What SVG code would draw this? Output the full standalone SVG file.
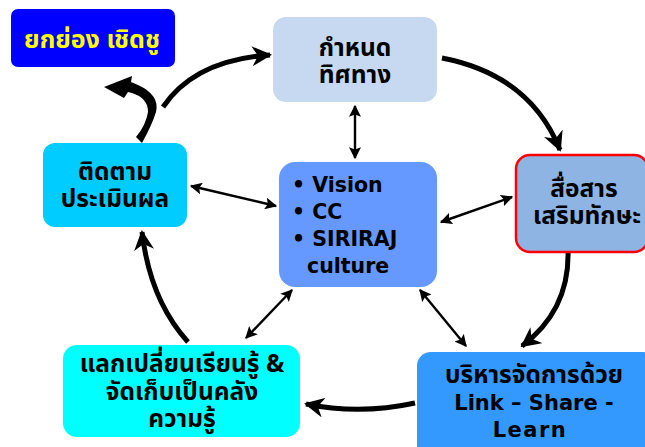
<svg xmlns="http://www.w3.org/2000/svg" width="645" height="447" viewBox="0 0 645 447">
<defs>
<style>
.t{font-family:"Noto Sans Thai","Tahoma","DejaVu Sans","Liberation Sans",sans-serif;font-weight:bold;font-size:24.5px;text-anchor:middle;fill:#000}
.l{font-family:"DejaVu Sans","Verdana",sans-serif;font-weight:bold;font-size:20.5px;fill:#000}
.c{text-anchor:middle;font-size:21px}
.thick{fill:none;stroke:#000;stroke-width:5}
.thin{fill:none;stroke:#000;stroke-width:2.4}
</style>
<marker id="big" viewBox="0 0 10 10" refX="9" refY="5" markerWidth="4" markerHeight="4" orient="auto" markerUnits="strokeWidth">
<path d="M0,0 L10,5 L0,10 L3,5 z" fill="#000"/>
</marker>
<marker id="sm" viewBox="0 0 10 10" refX="9" refY="5" markerWidth="5" markerHeight="5" orient="auto-start-reverse" markerUnits="strokeWidth">
<path d="M0,0 L10,5 L0,10 L2,5 z" fill="#000"/>
</marker>
</defs>
<rect width="645" height="447" fill="#fff"/>
<g id="connectors">
<path class="thick" d="M442,58 Q530,75 560,150" marker-end="url(#big)"/>
<path class="thick" d="M568,250 Q570,310 522,346" marker-end="url(#big)"/>
<path class="thick" d="M415,403 Q360,415 306,404" marker-end="url(#big)"/>
<path class="thick" d="M188,342 Q150,300 142,232" marker-end="url(#big)"/>
<path class="thick" d="M163,107 Q195,60 270,55" marker-end="url(#big)" stroke-width="4"/>
<path d="M142,143 Q152,125 156,112 Q160,95 138,85 L131,82 L132,76 L104,87 L124,98 L128,92 L132,93 Q148,98 148,112 Q146,125 136,137 z" fill="#000"/>
<path class="thin" d="M355,106 L355,158" marker-start="url(#sm)" marker-end="url(#sm)"/>
<path class="thin" d="M191,186 L276,206" marker-start="url(#sm)" marker-end="url(#sm)"/>
<path class="thin" d="M441,222 L512,197" marker-start="url(#sm)" marker-end="url(#sm)"/>
<path class="thin" d="M246,338 L292,290" marker-start="url(#sm)" marker-end="url(#sm)"/>
<path class="thin" d="M420,290 L466,346" marker-start="url(#sm)" marker-end="url(#sm)"/>
</g>
<g id="n-praise">
<rect x="11" y="9" width="164" height="58" rx="7" fill="#0000FF"/>
<text class="t" x="92" y="48" style="fill:#FFFF00;font-size:25px">ยกย่อง เชิดชู</text>
</g>
<g id="n-direction">
<rect x="273" y="17" width="164" height="85" rx="13" fill="#C6D9F1"/>
<text class="t" x="355" y="56">กำหนด</text>
<text class="t" x="355" y="83">ทิศทาง</text>
</g>
<g id="n-communicate">
<rect x="516" y="155" width="132" height="97" rx="14" fill="#8DB4E2" stroke="#FF0000" stroke-width="2.5"/>
<text class="t" x="584" y="197">สื่อสาร</text>
<text class="t" x="587" y="224">เสริมทักษะ</text>
</g>
<g id="n-monitor">
<rect x="43" y="143" width="144" height="84" rx="12" fill="#00CCFF"/>
<text class="t" x="115" y="180">ติดตาม</text>
<text class="t" x="115" y="207">ประเมินผล</text>
</g>
<g id="n-center">
<rect x="279" y="162" width="158" height="125" rx="16" fill="#6699FF"/>
<text class="l" x="292" y="192">• Vision</text>
<text class="l" x="292" y="219">• CC</text>
<text class="l" x="292" y="246">• SIRIRAJ</text>
<text class="l" x="307" y="273">culture</text>
</g>
<g id="n-exchange">
<rect x="63" y="345" width="237" height="92" rx="14" fill="#00FFFF"/>
<text class="t" x="182" y="372">แลกเปลี่ยนเรียนรู้ &amp;</text>
<text class="t" x="182" y="400">จัดเก็บเป็นคลัง</text>
<text class="t" x="182" y="427">ความรู้</text>
</g>
<g id="n-manage">
<rect x="417" y="352" width="240" height="110" rx="14" fill="#3399FF"/>
<text class="t" x="534" y="383">บริหารจัดการด้วย</text>
<text class="l c" x="534" y="410">Link – Share -</text>
<text class="l c" x="530" y="437" style="letter-spacing:1.5px">Learn</text>
</g>
</svg>
